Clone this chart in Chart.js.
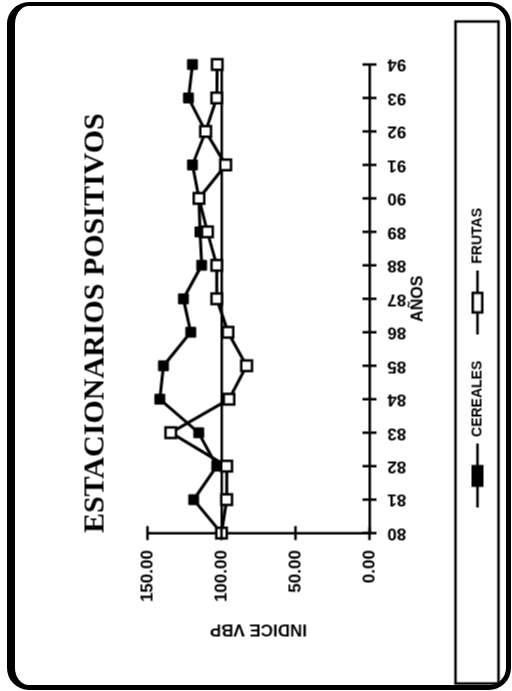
<!DOCTYPE html>
<html>
<head>
<meta charset="utf-8">
<script src="https://cdn.jsdelivr.net/npm/chart.js@4.4.1/dist/chart.umd.min.js"></script>
<style>
  html, body { margin: 0; padding: 0; background: #fff; }
  body { width: 512px; height: 691px; position: relative; overflow: hidden; }
  /* rounded outer frame of the scanned page */
  .frame {
    position: absolute; left: 7px; top: 2px; width: 491px; height: 679px;
    border-style: solid; border-color: #000; border-width: 4px 5px 5px 8px;
    border-radius: 22px;
  }
  /* the whole chart is printed sideways */
  .turn {
    position: absolute; left: -89.5px; top: 89.5px; width: 691px; height: 512px;
    transform: rotate(-90deg);
  }
</style>
</head>
<body>
<div class="frame"></div>
<div class="turn"><canvas id="chart" width="691" height="512"></canvas></div>
<script>
const years = ["80", "81", "82", "83", "84", "85", "86", "87", "88", "89", "90", "91", "92", "93", "94"];
const cereales = [100, 118.8, 103.2, 115.4, 141.7, 139.2, 120.8, 125.7, 113.4, 114.5, 115.2, 119.6, 110.7, 122.3, 119.6];
const frutas = [100, 96.5, 96.5, 134.3, 94.9, 83, 95.6, 103.2, 103.2, 109.5, 115.2, 97.2, 110.7, 103.2, 102.8];
const yMin = 0, yMax = 150, yStep = 50;
const baseLine = 100;

// legend symbols: a short line with the marker on it
function legendSymbol(filled) {
  const c = document.createElement("canvas");
  c.width = 64; c.height = 14;
  const g = c.getContext("2d");
  g.strokeStyle = "#000"; g.lineWidth = 2.5;
  g.beginPath(); g.moveTo(0, 7); g.lineTo(64, 7); g.stroke();
  g.fillStyle = filled ? "#000" : "#fff";
  g.fillRect(21, 1, 22, 12);
  if (!filled) { g.strokeRect(22.25, 2.25, 19.5, 9.5); }
  return c;
}
const symbols = [legendSymbol(true), legendSymbol(false)];

// cross-shaped tick marks and the box round the legend
const marks = {
  id: "marks",
  afterDraw(chart) {
    const { ctx, scales: { x, y } } = chart;
    ctx.save();
    ctx.strokeStyle = "#000";
    ctx.lineWidth = 2.5;
    ctx.beginPath();
    x.ticks.forEach((t, i) => {
      const px = x.getPixelForTick(i);
      ctx.moveTo(px, y.bottom - 7); ctx.lineTo(px, y.bottom + 7);
    });
    y.ticks.forEach((t, i) => {
      const py = y.getPixelForTick(i);
      ctx.moveTo(x.left - 7, py); ctx.lineTo(x.left + 7, py);
    });
    ctx.stroke();
    const hb = chart.legend.legendHitBoxes[0];
    const cy = hb.top + hb.height / 2;
    ctx.strokeRect(8, cy - 22, chart.width - 21 - 8, 43);
    ctx.restore();
  }
};

const chart = new Chart(document.getElementById("chart"), {
  type: "line",
  data: {
    labels: years,
    datasets: [
      {
        label: "CEREALES",
        data: cereales,
        borderColor: "#000",
        borderWidth: 3,
        pointStyle: "rect",
        pointRadius: 7,
        pointBackgroundColor: "#000",
        pointBorderColor: "#000",
        pointBorderWidth: 1,
        order: 2,
      },
      {
        label: "FRUTAS",
        data: frutas,
        borderColor: "#000",
        borderWidth: 3,
        pointStyle: "rect",
        pointRadius: 7.5,
        pointBackgroundColor: "#fff",
        pointBorderColor: "#000",
        pointBorderWidth: 2.5,
        order: 1,
      },
    ],
  },
  options: {
    responsive: false,
    animation: false,
    devicePixelRatio: 1,
    layout: { padding: { left: 40, right: 64, top: 60, bottom: 18 } },
    plugins: {
      title: {
        display: true,
        text: "ESTACIONARIOS POSITIVOS",
        color: "#000",
        align: "start",
        fullSize: false,
        font: { family: "'Liberation Serif', 'Times New Roman', serif", size: 30, weight: "bold" },
        padding: { top: 17, bottom: 34 },
      },
      legend: {
        position: "bottom",
        labels: {
          color: "#000",
          font: { family: "'Liberation Sans', Arial, sans-serif", size: 14, weight: "bold" },
          usePointStyle: true,
          pointStyleWidth: 64,
          boxHeight: 14,
          padding: 26,
          sort: (a, b) => a.datasetIndex - b.datasetIndex,
          generateLabels(chart) {
            const items = Chart.defaults.plugins.legend.labels.generateLabels(chart);
            items.forEach((it) => { it.pointStyle = symbols[it.datasetIndex]; });
            return items;
          },
        },
      },
      tooltip: { enabled: false },
    },
    scales: {
      x: {
        grid: { display: false },
        border: { display: true, color: "#000", width: 2.5 },
        ticks: {
          color: "#000",
          autoSkip: false,
          minRotation: 90,
          maxRotation: 90,
          padding: 10,
          font: { family: "'Liberation Sans', Arial, sans-serif", size: 17, weight: "bold" },
        },
        title: {
          display: true,
          text: "AÑOS",
          color: "#000",
          font: { family: "'Liberation Sans', Arial, sans-serif", size: 16, weight: "bold" },
          padding: { top: -8, bottom: 17 },
        },
      },
      y: {
        min: yMin,
        max: yMax,
        border: { display: true, color: "#000", width: 2.5 },
        grid: {
          drawTicks: false,
          color: (c) => (c.tick && c.tick.value === baseLine ? "#000" : "rgba(0,0,0,0)"),
          lineWidth: 2.5,
        },
        ticks: {
          stepSize: yStep,
          color: "#000",
          padding: 17,
          font: { family: "'Liberation Sans', Arial, sans-serif", size: 17, weight: "bold" },
          callback: (v) => v.toFixed(2),
        },
        title: {
          display: true,
          text: "INDICE VBP",
          color: "#000",
          font: { family: "'Liberation Sans', Arial, sans-serif", size: 17, weight: "bold" },
          padding: { top: 12, bottom: 0 },
        },
      },
    },
  },
  plugins: [marks],
});
</script>
</body>
</html>
